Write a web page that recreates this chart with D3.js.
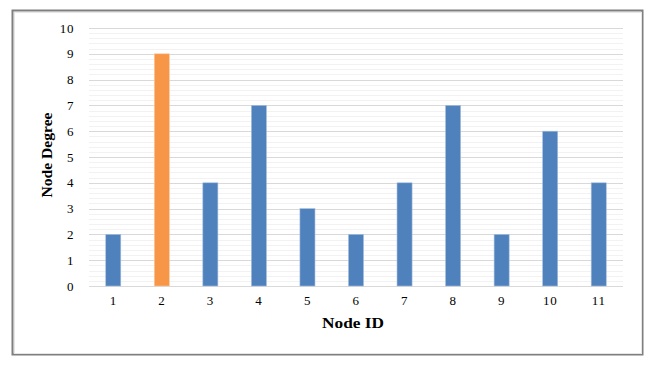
<!DOCTYPE html>
<html>
<head>
<meta charset="utf-8">
<script src="https://d3js.org/d3.v7.min.js"></script>
<style>
  body { margin: 0; background: #fff; }
  .axis path, .axis line { display: none; }
</style>
</head>
<body>
<svg width="656" height="366"></svg>
<script>
var nodeIds = ["1", "2", "3", "4", "5", "6", "7", "8", "9", "10", "11"];
var degrees = [2, 9, 4, 7, 3, 2, 4, 7, 2, 6, 4];
var highlight = "2";
var yTicks = [0, 1, 2, 3, 4, 5, 6, 7, 8, 9, 10];

var serif = "'Liberation Serif', 'Times New Roman', Times, serif";

var svg = d3.select("svg");
var margin = {top: 28, left: 89, right: 33, bottom: 80},
  width = 656 - margin.left - margin.right,
  height = 366 - margin.top - margin.bottom;

// frame
svg.append("rect").attr("x", 12.5).attr("y", 10.5).attr("width", 630).attr("height", 344)
  .attr("fill", "#fff").attr("stroke", "#7f7f7f").attr("stroke-width", 2);
svg.append("rect").attr("x", 14.5).attr("y", 12.5).attr("width", 627).attr("height", 341)
  .attr("fill", "none").attr("stroke", "#e6e6e6").attr("stroke-width", 1);

var x = d3.scaleBand().domain(nodeIds).range([0, width]).paddingInner(0.69).paddingOuter(0.345);
var y = d3.scaleLinear().domain([0, 10]).range([height, 0]);

var g = svg.append("g").attr("transform", "translate(" + margin.left + "," + margin.top + ")");

// minor grid
g.selectAll(".minor").data(d3.range(0, 10.01, 0.2).filter(function(v) { return Math.abs(v - Math.round(v)) > 0.01; }))
  .enter().append("line")
  .attr("x1", 0).attr("x2", width)
  .attr("y1", function(d) { return Math.round(y(d)) + 0.5; })
  .attr("y2", function(d) { return Math.round(y(d)) + 0.5; })
  .attr("stroke", "#f2f2f2");

// major grid
g.selectAll(".major").data(yTicks).enter().append("line")
  .attr("x1", 0).attr("x2", width)
  .attr("y1", function(d) { return Math.round(y(d)) + 0.5; })
  .attr("y2", function(d) { return Math.round(y(d)) + 0.5; })
  .attr("stroke", "#d9d9d9");

g.selectAll(".bar").data(nodeIds).enter().append("rect")
  .attr("x", function(d) { return x(d); })
  .attr("y", function(d, i) { return y(degrees[i]); })
  .attr("width", x.bandwidth())
  .attr("height", function(d, i) { return height - y(degrees[i]); })
  .attr("fill", function(d) { return d === highlight ? "#f79646" : "#4f81bd"; })
  .attr("stroke", function(d) { return d === highlight ? "#fbc9a3" : "#a7bfdd"; })
  .attr("stroke-width", 0.6);

// d3.axis sets its own font attrs, so override after the call
g.append("g").attr("class", "axis")
  .attr("transform", "translate(0," + height + ")")
  .call(d3.axisBottom(x).tickSize(0).tickPadding(10))
  .attr("font-family", serif).attr("font-size", 13)
  .selectAll("text").attr("fill", "#000").attr("letter-spacing", 0.6);

g.append("g").attr("class", "axis")
  .call(d3.axisLeft(y).tickValues(yTicks).tickSize(0).tickPadding(15))
  .attr("font-family", serif).attr("font-size", 13)
  .selectAll("text").attr("fill", "#000").attr("letter-spacing", 0.6);

svg.append("text")
  .attr("transform", "translate(52,155) rotate(-90)")
  .attr("text-anchor", "middle")
  .attr("textLength", 85).attr("lengthAdjust", "spacingAndGlyphs")
  .style("font-family", serif)
  .style("font-size", "14px").style("font-weight", "bold")
  .text("Node Degree");

svg.append("text")
  .attr("x", 353).attr("y", 328)
  .attr("text-anchor", "middle")
  .attr("textLength", 62).attr("lengthAdjust", "spacingAndGlyphs")
  .style("font-family", serif)
  .style("font-size", "14px").style("font-weight", "bold")
  .text("Node ID");
</script>
</body>
</html>
